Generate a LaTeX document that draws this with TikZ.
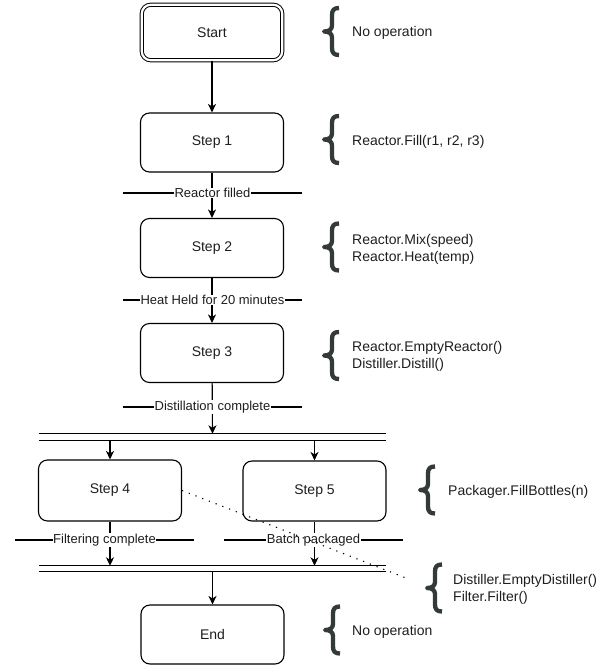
\documentclass[tikz,border=0pt]{standalone}
\usepackage{fontspec}
\setmainfont{Liberation Sans}
\usetikzlibrary{arrows.meta,calc}
\definecolor{bracecol}{HTML}{333A3A}
\definecolor{inkcol}{HTML}{1E1E1E}
\tikzset{
  stepbox/.style={draw, rounded corners=9pt, minimum width=143pt, minimum height=59pt,
    line width=1.1pt, inner sep=0pt, font=\fontsize{14}{17}\selectfont, text=inkcol},
  startbox/.style={stepbox, double, double distance=2.2pt, line width=1pt,
    minimum width=140.5pt, minimum height=55.5pt},
  flow/.style={line width=1.1pt, -{Stealth[length=8.5pt,width=8pt,inset=2.5pt]}},
  plain/.style={line width=1.1pt},
  barline/.style={line width=1.3pt},
  translbl/.style={fill=white, inner sep=0.6pt, font=\fontsize{13}{15}\selectfont, text=inkcol},
  note/.style={anchor=west, align=left, inner sep=0pt, font=\fontsize{14}{17}\selectfont, text=inkcol},
  bar/.style={minimum width=347pt, inner sep=0pt},
  dotline/.style={line width=1.1pt, dash pattern=on 1.2pt off 6pt},
  curly/.pic={\draw[bracecol, line width=4.3pt, line join=round]
    (15,-23.5) .. controls (10,-23.5) and (8,-21.5) .. (8,-16.5) -- (8,-6)
    .. controls (8,-2) and (5,0) .. (0,0)
    .. controls (5,0) and (8,2) .. (8,6) -- (8,16.5)
    .. controls (8,21.5) and (10,23.5) .. (15,23.5);}
}
\begin{document}
\begin{tikzpicture}[x=1pt, y=-1pt]
\useasboundingbox (0,0) rectangle (613,666);

% steps
\node[startbox] (start) at (212,32.5) {Start};
\node[stepbox] (step1) at (212,142.5) {Step 1};
\node[stepbox] (step2) at (212,248) {Step 2};
\node[stepbox] (step3) at (212,353) {Step 3};
\node[stepbox, minimum height=61pt] (step4) at (110,490.5) {Step 4};
\node[stepbox, minimum height=60pt] (step5) at (314.5,491) {Step 5};
\node[stepbox] (end) at (212.5,634.5) {End};

% parallel fork and join bars
\node[bar, minimum height=6pt] (fork) at (212.5,437) {};
\node[bar, minimum height=5pt] (join) at (212.5,568.5) {};
\draw[barline] (fork.north west) -- (fork.north east);
\draw[barline] (fork.south west) -- (fork.south east);
\draw[barline] (join.north west) -- (join.north east);
\draw[barline] (join.south west) -- (join.south east);

% sequence connectors
\draw[flow] (start) -- (step1);
\draw[flow] (step1) -- (step2);
\draw[flow] (step2) -- (step3);
\draw[flow] (step3) -- (fork.north);
\draw[flow] (fork.south -| step4) -- (step4);
\draw[flow] (fork.south -| step5) -- (step5);
\draw[flow] (step4) -- (join.north -| step4);
\draw[flow] (step5) -- (join.north -| step5);
\draw[flow] (join.south) -- (end);

% transition conditions
\coordinate (t1l) at (123,193); \coordinate (t1r) at (302,193);
\coordinate (t2l) at (123,300); \coordinate (t2r) at (302,300);
\coordinate (t3l) at (123,407); \coordinate (t3r) at (302,407);
\coordinate (t4l) at (15,540);  \coordinate (t4r) at (194,540);
\coordinate (t5l) at (224,540); \coordinate (t5r) at (403,540);
\draw[plain] (t1l) -- (t1r);
\draw[plain] (t2l) -- (t2r);
\draw[plain] (t3l) -- (t3r);
\draw[plain] (t4l) -- (t4r);
\draw[plain] (t5l) -- (t5r);
\node[translbl] (t1) at ($(t1l)!0.5!(t1r)$) {Reactor filled};
\node[translbl] (t2) at ($(t2l)!0.5!(t2r)$) {Heat Held for 20 minutes};
\node[translbl] (t3) at ($(t3l)!0.5!(t3r)$) {Distillation complete};
\node[translbl] (t4) at ($(t4l)!0.5!(t4r)$) {Filtering complete};
\node[translbl] (t5) at ($(t5l)!0.5!(t5r)$) {Batch packaged};

% link from step 4 to the join actions
\coordinate (dotend) at (406,578);
\draw[dotline] (step4.east) -- (dotend);

% actions of each step
\pic at (324,31.5) {curly};
\pic at (324,139.5) {curly};
\pic at (324,247) {curly};
\pic at (324,355.5) {curly};
\pic at (420,490) {curly};
\pic at (427,588) {curly};
\pic at (325,630) {curly};
\node[note] (a0) at (352,33) {No operation};
\node[note] (a1) at (352,142) {Reactor.Fill(r1, r2, r3)};
\node[note] (a2) at (352,249.5) {Reactor.Mix(speed)\\Reactor.Heat(temp)};
\node[note] (a3) at (352,356.5) {Reactor.EmptyReactor()\\Distiller.Distill()};
\node[note] (a5) at (448,492) {Packager.FillBottles(n)};
\node[note] (aj) at (453,589) {Distiller.EmptyDistiller()\\Filter.Filter()};
\node[note] (ae) at (352,632) {No operation};
\end{tikzpicture}
\end{document}
